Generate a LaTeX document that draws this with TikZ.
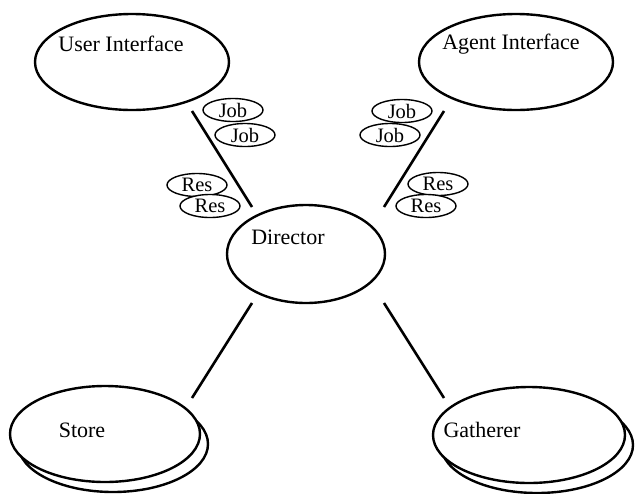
\documentclass[tikz,border=0pt]{standalone}
\usepackage{fontspec}
\setmainfont{Liberation Serif}
\usetikzlibrary{shapes.geometric}
\begin{document}
\begin{tikzpicture}[x=1pt,y=-1pt,
  big/.style={ellipse,draw,line width=2.4pt,inner sep=0pt,minimum width=194pt,minimum height=96pt,fill=white},
  msg/.style={ellipse,draw,line width=1.4pt,inner sep=0pt,minimum width=60pt,minimum height=23pt,fill=white,font=\fontsize{20.5}{24}\selectfont},
  lbl/.style={font=\fontsize{22}{26}\selectfont},
  conn/.style={line width=2.6pt}]
\useasboundingbox (0,0) rectangle (637,493);
% interfaces
\node[big,label={[lbl,xshift=-11pt,yshift=18pt]center:User Interface}] (ui) at (132,62) {};
\node[big,label={[lbl,xshift=-5pt,yshift=18pt]center:Agent Interface}] (ai) at (516,62) {};
% director
\node[big,minimum width=158pt,minimum height=98pt,label={[lbl,xshift=-18pt,yshift=17pt]center:Director}] (dir) at (306,254) {};
% store (stacked)
\node[big,minimum width=190pt] (storeb) at (113,444) {};
\node[big,minimum width=190pt,label={[lbl,xshift=-23pt,yshift=4pt]center:Store}] (store) at (105,434) {};
% gatherer (stacked)
\node[big,minimum width=192pt] (gathb) at (537,445) {};
\node[big,minimum width=192pt,label={[lbl,xshift=-47pt,yshift=5pt]center:Gatherer}] (gath) at (529,435) {};
% connector end points
\coordinate (l1a) at (192,111); \coordinate (l1b) at (252,207);
\coordinate (l2a) at (444,111); \coordinate (l2b) at (384,207);
\coordinate (l3a) at (252,303); \coordinate (l3b) at (192,398);
\coordinate (l4a) at (384,303); \coordinate (l4b) at (444,398);
\draw[conn] (l1a) -- (l1b);
\draw[conn] (l2a) -- (l2b);
\draw[conn] (l3a) -- (l3b);
\draw[conn] (l4a) -- (l4b);
% messages
\node[msg] (j1) at (233,110) {Job};
\node[msg] (j2) at (245,135) {Job};
\node[msg] (r1) at (197,185) {Res};
\node[msg] (r2) at (210,206) {Res};
\node[msg] (j3) at (402,111) {Job};
\node[msg] (j4) at (390,135) {Job};
\node[msg] (r3) at (438,184) {Res};
\node[msg] (r4) at (426,206) {Res};
\end{tikzpicture}
\end{document}
